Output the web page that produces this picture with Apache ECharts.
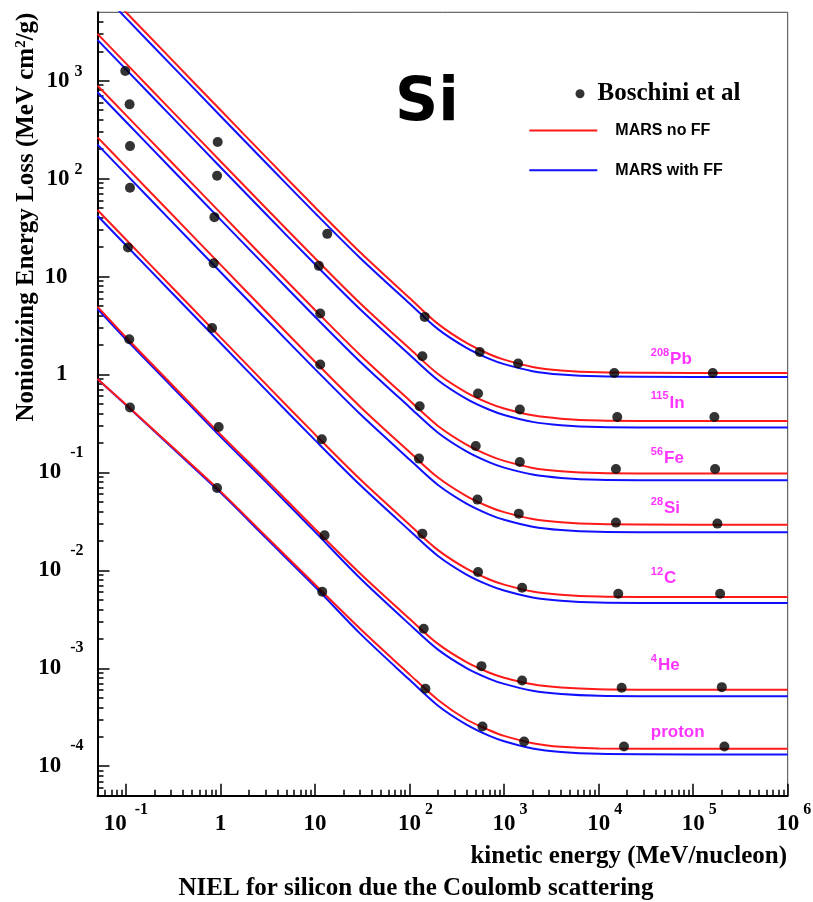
<!DOCTYPE html>
<html><head><meta charset="utf-8">
<script src="https://cdn.jsdelivr.net/npm/echarts@6/dist/echarts.min.js"></script>
<style>html,body{margin:0;padding:0;background:#fff}#c{width:813px;height:902px}</style>
</head><body><div id="c"></div>
<script>
// ---- data (kinetic energy MeV/nucleon, NIEL MeV cm^2/g) ----
const energyGrid = [0.05,0.1,0.3,1,3,10,30,100,200,400,700,1000,2000,4000,1e4,1e5,1e6];
const pbNoFF = [10020,5011,1671,502,168,51.1,17.74,6.05,3.29,2.103,1.611,1.419,1.196,1.101,1.053,1.038,1.038];
const pbFF   = [8720,4361,1454,437,146.3,44.5,15.48,5.305,2.907,1.872,1.443,1.276,1.082,0.9995,0.958,0.945,0.945];
const inNoFF = [3008,1504,501.7,150.7,50.47,15.38,5.349,1.84,1.012,0.6551,0.5074,0.4498,0.3829,0.3543,0.34,0.3355,0.3355];
const inFF   = [2612,1306,435.6,130.9,43.82,13.35,4.64,1.593,0.875,0.5647,0.4365,0.3865,0.3283,0.3035,0.2911,0.2872,0.2872];
const feNoFF = [892.1,446.1,148.8,44.7,14.96,4.557,1.584,0.5433,0.298,0.1921,0.1483,0.1312,0.1113,0.1029,0.0986,0.0973,0.0973];
const feFF   = [762.1,381.1,127.1,38.18,12.78,3.893,1.353,0.4641,0.2546,0.1641,0.1266,0.1121,0.0951,0.0879,0.0842,0.0831,0.0831];
const siNoFF = [264.2,132.1,44.06,13.24,4.433,1.35,0.4696,0.1614,0.0887,0.05738,0.0444,0.03934,0.03346,0.03095,0.0297,0.0293,0.0293];
const siFF   = [222.4,111.2,37.09,11.14,3.731,1.136,0.3951,0.1356,0.07448,0.04807,0.03715,0.03289,0.02794,0.02583,0.02477,0.02444,0.02444];
const cNoFF  = [47.85,23.93,7.979,2.397,0.8027,0.2445,0.08507,0.02926,0.0161,0.01042,0.00807,0.00715,0.006089,0.005635,0.005408,0.005336,0.005336];
const cFF    = [41.8,20.9,6.971,2.095,0.7013,0.2136,0.0743,0.02553,0.01404,0.009073,0.007021,0.00622,0.00529,0.004893,0.004695,0.004632,0.004632];
const heNoFF = [4.93,2.40,0.805,0.245,0.0855,0.0265,0.0093,0.003204,0.001774,0.001157,0.0009011,0.0008016,0.0006859,0.0006365,0.0006118,0.000604,0.000604];
const heFF   = [4.70,2.29,0.768,0.232,0.0806,0.0247,0.0083,0.002809,0.00155,0.001006,0.0007807,0.000693,0.0005911,0.0005476,0.0005259,0.000519,0.000519];
const pNoFF  = [0.90,0.494,0.187,0.0641,0.0225,0.00716,0.00254,0.000867,0.000475,0.0003,0.000233,0.000204,0.000172,0.000158,0.000152,0.0001507,0.0001507];
const pFF    = [0.90,0.489,0.183,0.0622,0.0216,0.0068,0.00226,0.000762,0.000415,0.000266,0.000204,0.00018,0.000152,0.0001397,0.0001337,0.0001318,0.0001318];

const boschiniPoints = [
  [0.0983,1256],[0.1092,574],[0.1103,215.1],[0.1103,80.65],[0.105,19.85],[0.1084,2.293],[0.1103,0.46],
  [0.934,236.4],[0.920,106.9],[0.862,40.48],[0.847,13.71],[0.815,2.992],[0.957,0.2912],[0.920,0.06934],
  [13.47,27.32],[10.97,12.87],[11.35,4.2],[11.35,1.265],[11.8,0.2182],[12.61,0.02279],[11.92,0.006057],
  [144.5,3.876],[136.6,1.538],[127.9,0.4741],[125.8,0.1385],[136.6,0.02371],[141.1,0.002536],[147.1,0.000618],
  [552.7,1.701],[530.4,0.639],[501.4,0.1863],[522.6,0.05279],[530.4,0.009607],[576.1,0.001052],[590.3,0.0002545],
  [1407,1.295],[1467,0.4386],[1467,0.1278],[1431,0.03797],[1551,0.006655],[1551,0.0007516],[1629,0.0001789],
  [14640,1.038],[15740,0.3685],[15250,0.1084],[15250,0.03074],[16130,0.00578],[17520,0.0006326],[18540,0.000159],
  [161300,1.038],[167600,0.3685],[170600,0.1084],[180500,0.03002],[192800,0.00578],[200900,0.0006418],[214100,0.000159]
];

const ionMass   = ['208','115','56','28','12','4',''];
const ionSymbol = ['Pb','In','Fe','Si','C','He','proton'];
const ionLabelE = 35600;
const ionLabelV = [1.423,0.5124,0.1385,0.04271,0.008227,0.00107,0.0002227];

const xMajorTicks = [0.1,1,10,100,1000,1e4,1e5,1e6];
const yMajorTicks = [1e-4,1e-3,1e-2,0.1,1,10,100,1000];
const minorMultipliers = [2,3,4,5,6,7,8,9];
const xRange = [0.05, 1e6];
const yRange = [5e-5, 5000];

// ---- build ----
function minorTicks(range){
  const out=[];
  for(let d=-6; d<=6; d++){
    const base=Math.pow(10,d);
    minorMultipliers.forEach(m=>{const v=+(m*base).toPrecision(6); if(v>range[0]*1.0001 && v<range[1]*0.9999) out.push(v);});
  }
  return out;
}
const xMinor = minorTicks(xRange), yMinor = minorTicks(yRange);

const SERIF = '"Liberation Serif","Times New Roman",serif';
const SANS = '"Liberation Sans",Arial,sans-serif';

function xLab(v){
  const e=Math.round(Math.log10(v));
  if(e===0) return '{b|1}';
  if(e===1) return '{b|10}';
  if(e>0) return '{bp|10}{ep|'+e+'}';
  return '{b|10}{en|'+e+'}';
}
function yLab(v){
  const e=Math.round(Math.log10(v));
  if(e===0) return '{p|1}';
  if(e===1) return '{p|10}';
  if(e>0) return '{b|10}{ep|'+e+'}';
  return '{b|10}{en|'+e+'}';
}

const ions = [
  [pbNoFF,pbFF],[inNoFF,inFF],[feNoFF,feFF],[siNoFF,siFF],[cNoFF,cFF],[heNoFF,heFF],[pNoFF,pFF]
];
const series = [];
ions.forEach(([nf,ff])=>{
  series.push({type:'line', name:'MARS with FF', xAxisIndex:0, yAxisIndex:0,
    data: energyGrid.map((e,i)=>[e,ff[i]]), symbol:'none', smooth:0.3, z:2,
    lineStyle:{color:'#1010ff', width:2}, itemStyle:{color:'#1010ff'}});
});
ions.forEach(([nf,ff])=>{
  series.push({type:'line', name:'MARS no FF', xAxisIndex:0, yAxisIndex:0,
    data: energyGrid.map((e,i)=>[e,nf[i]]), symbol:'none', smooth:0.3, z:3,
    lineStyle:{color:'#ff1a1a', width:2}, itemStyle:{color:'#ff1a1a'}});
});
series.push({type:'scatter', name:'Boschini et al', xAxisIndex:0, yAxisIndex:0,
  data: boschiniPoints, symbol:'circle', symbolSize:10, z:4, itemStyle:{color:'#000'}});
series.push({type:'scatter', name:'ions', xAxisIndex:0, yAxisIndex:0, symbolSize:0, z:5, silent:true,
  data: ionLabelV.map((v,i)=>({value:[ionLabelE,v], label:{formatter: (ionMass[i]?'{s|'+ionMass[i]+'}':'')+'{n|'+ionSymbol[i]+'}'}})),
  label:{show:true, position:'right', distance:0,
    rich:{ s:{fontFamily:SANS, fontWeight:'bold', fontSize:11, color:'#ff00ff', padding:[0,1,13,0]},
           n:{fontFamily:SANS, fontWeight:'bold', fontSize:17, color:'#ff00ff', lineHeight:20} } }});

const tickStyle = {color:'#000', width:1.5};
const gridRect = {left:97.5, right:25.3, top:12.3, bottom:106.3};
const LBL = {fontFamily:SERIF, fontWeight:'bold', color:'#000'};

const option = {
  animation:false,
  backgroundColor:'#fff',
  grid:[
    Object.assign({show:true, borderColor:'#444', borderWidth:1, outerBoundsMode:'none', containLabel:false}, gridRect),
    Object.assign({show:false, outerBoundsMode:'none', containLabel:false}, gridRect)
  ],
  xAxis:[
    {type:'log', logBase:10, gridIndex:0, min:xRange[0], max:xRange[1],
     axisLine:{lineStyle:{color:'#000', width:2}},
     axisTick:{inside:true, length:12, customValues:xMajorTicks, lineStyle:tickStyle},
     axisLabel:{customValues:xMajorTicks, formatter:xLab, margin:4,
       rich:{ b:Object.assign({fontSize:23, lineHeight:48}, LBL),
              bp:Object.assign({fontSize:23, lineHeight:48, padding:[0,0,0,12]}, LBL),
              ep:Object.assign({fontSize:16, padding:[0,0,28,4]}, LBL),
              en:Object.assign({fontSize:16, padding:[0,0,28,8]}, LBL) }},
     splitLine:{show:false}},
    {type:'log', logBase:10, gridIndex:1, min:xRange[0], max:xRange[1],
     axisLine:{show:false},
     axisTick:{inside:true, length:6, customValues:xMinor, lineStyle:tickStyle},
     axisLabel:{show:false}, splitLine:{show:false}}
  ],
  yAxis:[
    {type:'log', logBase:10, gridIndex:0, min:yRange[0], max:yRange[1],
     axisLine:{lineStyle:{color:'#000', width:2}},
     axisTick:{inside:true, length:12, customValues:yMajorTicks, lineStyle:tickStyle},
     axisLabel:{customValues:yMajorTicks, formatter:yLab, margin:14,
       rich:{ b:Object.assign({fontSize:23, lineHeight:48}, LBL),
              p:Object.assign({fontSize:23, lineHeight:48, padding:[0,16,0,0]}, LBL),
              ep:Object.assign({fontSize:16, padding:[0,1,18,5]}, LBL),
              en:Object.assign({fontSize:16, padding:[0,0,40,9]}, LBL) }},
     splitLine:{show:false}},
    {type:'log', logBase:10, gridIndex:1, min:yRange[0], max:yRange[1],
     axisLine:{show:false},
     axisTick:{inside:true, length:6, customValues:yMinor, lineStyle:tickStyle},
     axisLabel:{show:false}, splitLine:{show:false}}
  ],
  legend:[
    {data:[{name:'Boschini et al', icon:'circle'}], orient:'vertical', left:570.5, top:75.7,
     itemWidth:25, itemHeight:9, selectedMode:false,
     textStyle:{fontFamily:SERIF, fontWeight:'bold', fontSize:25, color:'#000', lineHeight:26}},
    {data:[{name:'MARS no FF', icon:'rect'},{name:'MARS with FF', icon:'rect'}], orient:'vertical',
     left:524.3, top:116.6, itemWidth:68, itemHeight:2, itemGap:21.7, selectedMode:false,
     textStyle:{fontFamily:SANS, fontWeight:'bold', fontSize:16, color:'#000', lineHeight:18, padding:[0,0,0,13]}}
  ],
  graphic:[
    {type:'text', x:427, y:104, style:{text:'Si', fontFamily:'"DejaVu Sans",sans-serif', fontWeight:'bold', fontSize:60, fill:'#000', align:'center', verticalAlign:'middle'}},
    {type:'text', x:787, y:857, style:{text:'kinetic energy (MeV/nucleon)', fontFamily:SERIF, fontWeight:'bold', fontSize:25, fill:'#000', align:'right', verticalAlign:'middle'}},
    {type:'text', x:416, y:889, style:{text:'NIEL for silicon due the Coulomb scattering', fontFamily:SERIF, fontWeight:'bold', fontSize:25, fill:'#000', align:'center', verticalAlign:'middle'}},
    {type:'text', x:27, y:217, rotation:Math.PI/2,
     style:{text:'{t|Nonionizing Energy Loss (MeV cm}{s|2}{t|/g)}', align:'center', verticalAlign:'middle',
       rich:{ t:{fontFamily:SERIF, fontWeight:'bold', fontSize:25, fill:'#000', color:'#000'},
              s:{fontFamily:SERIF, fontWeight:'bold', fontSize:15, fill:'#000', color:'#000', padding:[0,0,12,0]} }}}
  ],
  series: series
};
const chart = echarts.init(document.getElementById('c'), null, {renderer:'canvas'});
chart.setOption(option);
</script>
</body></html>
